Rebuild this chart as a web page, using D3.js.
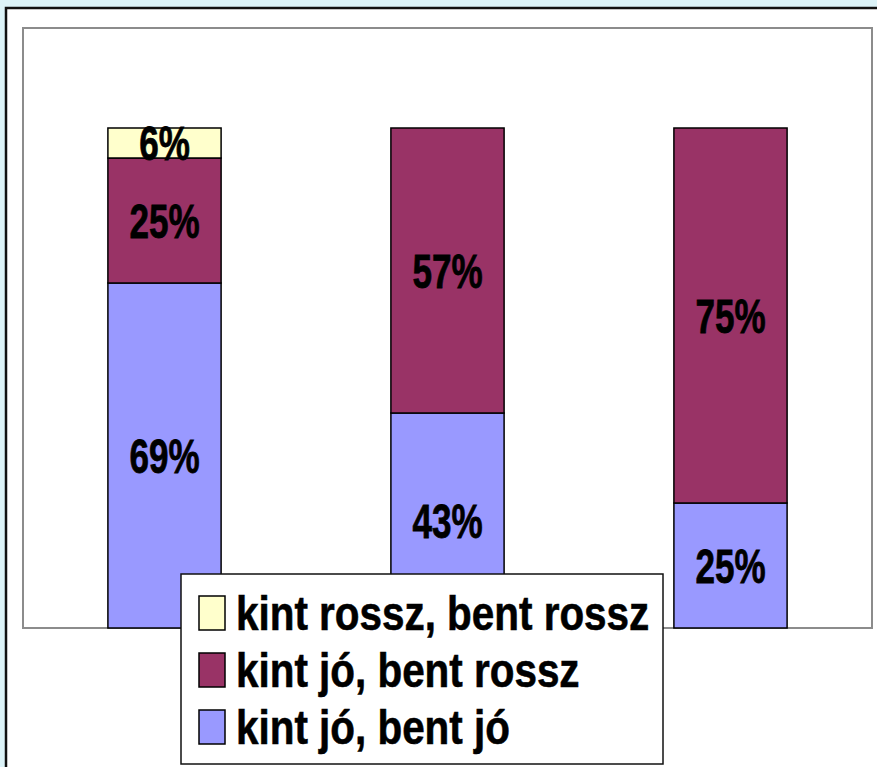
<!DOCTYPE html>
<html>
<head>
<meta charset="utf-8">
<script src="https://cdn.jsdelivr.net/npm/d3@7"></script>
<style>
  html, body { margin: 0; padding: 0; background: #dcf3f8; }
  svg { display: block; }
</style>
</head>
<body>
<div id="chart"></div>
<script>
// chart data
var groups = ["A", "B", "C"];
var seriesNames = ["kint jó, bent jó", "kint jó, bent rossz", "kint rossz, bent rossz"];
var seriesColors = ["#9999ff", "#993366", "#ffffcc"];
var valJoJo = [69, 43, 25];
var valJoRossz = [25, 57, 75];
var valRosszRossz = [6, 0, 0];
var legendOrder = [2, 1, 0];

var width = 877, height = 767;
var plot = { left: 23, top: 28, right: 872, bottom: 628 };
// no narrow font installed, so squeeze a bold sans horizontally
var font = "'Liberation Sans', Arial, sans-serif";

var svg = d3.select("#chart").append("svg").attr("width", width).attr("height", height);

// outer frame
svg.append("rect").attr("x", 0).attr("y", 0).attr("width", width).attr("height", height).attr("fill", "#dcf3f8");
svg.append("rect").attr("x", 6).attr("y", 8).attr("width", width + 10).attr("height", height + 10)
  .attr("fill", "#fff").attr("stroke", "#111").attr("stroke-width", 2.5);

// plot area
svg.append("rect").attr("x", plot.left).attr("y", plot.top)
  .attr("width", plot.right - plot.left).attr("height", plot.bottom - plot.top)
  .attr("fill", "#fff").attr("stroke", "#8c8c8c").attr("stroke-width", 2);

var x = d3.scaleBand().domain(groups).range([plot.left, plot.right]).paddingInner(0.6).paddingOuter(0.3);
var y = d3.scaleLinear().domain([0, 120]).range([plot.bottom, plot.top]);

var table = groups.map(function(g, i) {
  return { group: g, s0: valJoJo[i], s1: valJoRossz[i], s2: valRosszRossz[i] };
});
var stack = d3.stack().keys(["s0", "s1", "s2"])(table);

var layers = svg.append("g").selectAll("g").data(stack).enter().append("g")
  .attr("fill", function(d, i) { return seriesColors[i]; });

function nonEmpty(d) { return d.filter(function(p) { return p[1] > p[0]; }); }

layers.selectAll("rect").data(nonEmpty)
  .enter().append("rect")
  .attr("x", function(d) { return x(d.data.group); })
  .attr("width", x.bandwidth())
  .attr("y", function(d) { return y(d[1]); })
  .attr("height", function(d) { return y(d[0]) - y(d[1]); })
  .attr("stroke", "#000").attr("stroke-width", 1.5);

var labelSize = 48;
layers.selectAll("text").data(nonEmpty)
  .enter().append("text")
  .attr("transform", function(d) {
    var cx = x(d.data.group) + x.bandwidth() / 2;
    var cy = (y(d[0]) + y(d[1])) / 2 + labelSize * 0.358;
    return "translate(" + cx + "," + cy + ") scale(0.73,1)";
  })
  .attr("text-anchor", "middle")
  .style("font-family", font).style("font-weight", "bold").style("font-size", labelSize + "px")
  .style("fill", "#000").style("stroke", "#000").style("stroke-width", "0.8px")
  .text(function(d) { return (d[1] - d[0]) + "%"; });

// legend
var legend = svg.append("g").attr("transform", "translate(181, 574)");
legend.append("rect").attr("x", 0).attr("y", 0).attr("width", 482).attr("height", 190)
  .attr("fill", "#fff").attr("stroke", "#111").attr("stroke-width", 1.5);
var items = legend.selectAll("g.item").data(legendOrder).enter().append("g")
  .attr("class", "item")
  .attr("transform", function(d, i) { return "translate(18, " + (22 + i * 57) + ")"; });
items.append("rect").attr("x", 0).attr("y", 0).attr("width", 26).attr("height", 34)
  .attr("fill", function(d) { return seriesColors[d]; }).attr("stroke", "#000").attr("stroke-width", 1.5);
items.append("text").attr("transform", "translate(37, 34) scale(0.825,1)")
  .style("font-family", font).style("font-weight", "bold").style("font-size", "49px")
  .style("fill", "#000").style("stroke", "#000").style("stroke-width", "0.6px")
  .text(function(d) { return seriesNames[d]; });
</script>
</body>
</html>
